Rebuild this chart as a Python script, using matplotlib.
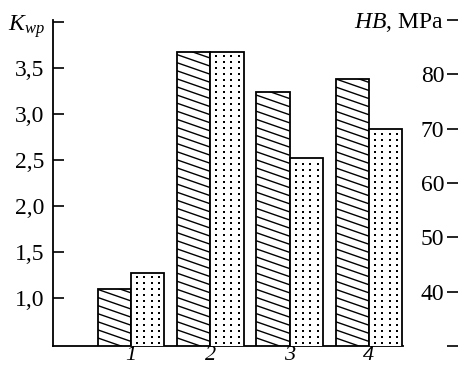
import matplotlib
matplotlib.use("Agg")
import matplotlib.pyplot as plt
from matplotlib.collections import LineCollection
from matplotlib.patches import Rectangle
import numpy as np

plt.rcParams["font.family"] = ["Liberation Serif", "DejaVu Serif"]
plt.rcParams["mathtext.fontset"] = "custom"
plt.rcParams["mathtext.rm"] = "Liberation Serif"
plt.rcParams["mathtext.it"] = "Liberation Serif:italic"

# data
groups = ["1", "2", "3", "4"]
k_wp = [1.10, 3.67, 3.24, 3.38]          # hatched bars, left axis
hb = [43.5, 84.1, 64.6, 70.0]            # dotted bars, right axis (MPa)
left_ticks = [1.0, 1.5, 2.0, 2.5, 3.0, 3.5, 4.0]
left_labels = ["1,0", "1,5", "2,0", "2,5", "3,0", "3,5", "$K_{wp}$"]
right_ticks = [30, 40, 50, 60, 70, 80, 90]
right_labels = ["", "40", "50", "60", "70", "80", "$HB$, MPa"]

W, H = 458, 365
fig = plt.figure(figsize=(W / 100, H / 100), dpi=100)
ax = fig.add_axes([53 / W, (H - 346) / H, 350 / W, 326 / H])

x = np.arange(1, len(groups) + 1)
w = 0.42
ylo, yhi = 0.478, 4.022
hb_lo, hb_hi = 30, 90

bars_k = ax.bar(x - w / 2, k_wp, w, facecolor="white", edgecolor="k",
                linewidth=1.3, zorder=2)

# shallow diagonal hatching clipped to the visible part of each bar
slope = 0.30
step = 0.088
for rect in bars_k:
    x0, bw, h = rect.get_x(), rect.get_width(), rect.get_height()
    cs = np.arange(ylo, h + slope * bw + step, step)
    segs = [[(x0, c), (x0 + bw, c - slope * bw)] for c in cs]
    lc = LineCollection(segs, colors="k", linewidths=1.0, zorder=2.5)
    ax.add_collection(lc)
    clip = Rectangle((x0, ylo), bw, h - ylo, transform=ax.transData)
    lc.set_clip_path(clip)

ax.set_xlim(0.017, 4.43)
ax.set_ylim(ylo, yhi)
ax.spines["top"].set_visible(False)
ax.spines["right"].set_visible(False)
for s in ("left", "bottom"):
    ax.spines[s].set_linewidth(1.3)
ax.set_yticks(left_ticks)
ax.set_yticklabels(left_labels)
ax.tick_params(axis="y", direction="in", length=8, width=1.2, pad=6,
               labelsize=17)
ax.set_xticks(x)
ax.set_xticklabels(groups, fontstyle="italic")
ax.tick_params(axis="x", length=0, pad=0, labelsize=16)

ax2 = ax.twinx()
bars_hb = ax2.bar(x + w / 2, hb, w, facecolor="white", edgecolor="k",
                  linewidth=1.3, zorder=2)

# dotted fill: a regular grid of small dots inside each bar
dx, dy = 0.094, 1.1
for rect in bars_hb:
    x0, bw, h = rect.get_x(), rect.get_width(), rect.get_height()
    xs = np.arange(x0 + 0.8 * dx, x0 + bw, dx)
    ys = np.arange(hb_lo + 0.5 * dy, h, dy)
    gx, gy = np.meshgrid(xs, ys)
    sc = ax2.scatter(gx.ravel(), gy.ravel(), s=1.2, marker="s", c="k",
                     linewidths=0, zorder=2.5)
    clip = Rectangle((x0, hb_lo), bw, h - hb_lo, transform=ax2.transData)
    sc.set_clip_path(clip)

ax2.set_ylim(hb_lo, hb_hi)
for s in ("top", "right", "bottom"):
    ax2.spines[s].set_visible(False)
ax2.spines["left"].set_position(("axes", (447 - 53) / 350))
ax2.spines["left"].set_color("none")
ax2.yaxis.set_ticks_position("left")
ax2.yaxis.set_label_position("left")
ax2.set_yticks(right_ticks)
ax2.set_yticklabels(right_labels)
ax2.tick_params(axis="y", direction="in", length=8, width=1.2, pad=2,
                labelsize=17, colors="k")

fig.savefig("out.png", dpi=100)
